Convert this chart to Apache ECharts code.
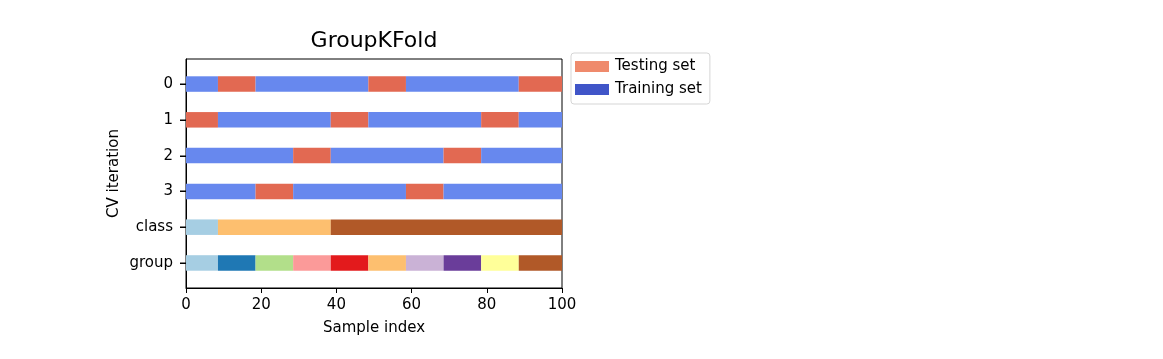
<!DOCTYPE html>
<html><head><meta charset="utf-8">
<script src="https://cdn.jsdelivr.net/npm/echarts@6/dist/echarts.min.js"></script>
<style>html,body{margin:0;padding:0;background:#fff}#c{width:1163px;height:359px}</style>
</head><body><div id="c"></div>
<script>
// Row labels, top to bottom
const rowLabels = ['0', '1', '2', '3', 'class', 'group'];
// x tick labels
const xTicks = [0, 20, 40, 60, 80, 100];
// Segments per row: [start, end, key]
const split0 = [[0, 8.5, 'train'], [8.5, 18.5, 'test'], [18.5, 48.5, 'train'], [48.5, 58.5, 'test'], [58.5, 88.5, 'train'], [88.5, 100, 'test']];
const split1 = [[0, 8.5, 'test'], [8.5, 38.5, 'train'], [38.5, 48.5, 'test'], [48.5, 78.5, 'train'], [78.5, 88.5, 'test'], [88.5, 100, 'train']];
const split2 = [[0, 28.5, 'train'], [28.5, 38.5, 'test'], [38.5, 68.5, 'train'], [68.5, 78.5, 'test'], [78.5, 100, 'train']];
const split3 = [[0, 18.5, 'train'], [18.5, 28.5, 'test'], [28.5, 58.5, 'train'], [58.5, 68.5, 'test'], [68.5, 100, 'train']];
const classSegs = [[0, 8.5, 'c0'], [8.5, 38.5, 'c1'], [38.5, 100, 'c2']];
const groupSegs = [[0, 8.5, 'g0'], [8.5, 18.5, 'g1'], [18.5, 28.5, 'g2'], [28.5, 38.5, 'g3'], [38.5, 48.5, 'g4'], [48.5, 58.5, 'g5'], [58.5, 68.5, 'g6'], [68.5, 78.5, 'g7'], [78.5, 88.5, 'g8'], [88.5, 100, 'g9']];
const allRows = [split0, split1, split2, split3, classSegs, groupSegs];
const legendNames = ['Testing set', 'Training set'];

const colors = {
  train: '#6788ee', test: '#e26952',
  c0: '#a6cee3', c1: '#fdbf6f', c2: '#b15928',
  g0: '#a6cee3', g1: '#1f78b4', g2: '#b2df8a', g3: '#fb9a99', g4: '#e31a1c',
  g5: '#fdbf6f', g6: '#cab2d6', g7: '#6a3d9a', g8: '#ffff99', g9: '#b15928'
};
const legendColors = ['#ef8a6c', '#4055c8'];

const data = [];
allRows.forEach((segs, r) => segs.forEach(s => data.push([s[0], s[1], r + 0.5, s[2]])));
const rowPos = rowLabels.map((_, i) => i + 0.5);

const chart = echarts.init(document.getElementById('c'), null, {renderer: 'canvas'});
const FONT = 'DejaVu Sans';
const titleGraphic = {type: 'text', x: 374, y: 41, style: {text: 'GroupKFold', fill: '#000', font: '22px "DejaVu Sans"', textAlign: 'center', textVerticalAlign: 'middle'}};
chart.setOption({
  animation: false,
  textStyle: {fontFamily: FONT},
  grid: {left: 186, right: 601, top: 59, bottom: 71, show: true, borderColor: '#000', borderWidth: 1, backgroundColor: 'transparent'},
  graphic: [titleGraphic],
  legend: {
    orient: 'vertical', left: 571, top: 53,
    data: legendNames.map((n, i) => ({name: n, itemStyle: {color: legendColors[i]}})),
    icon: 'rect', itemWidth: 34, itemHeight: 11, itemGap: 8,
    padding: [6, 8, 7, 4],
    borderColor: '#d5d5d5', borderWidth: 1, borderRadius: 3,
    textStyle: {fontFamily: FONT, fontSize: 15, color: '#000', padding: [0, 0, 0, 1]},
    selectedMode: false
  },
  xAxis: {
    type: 'value', min: 0, max: 100, interval: 20,
    name: 'Sample index', nameLocation: 'middle', nameGap: 33,
    nameTextStyle: {fontFamily: FONT, fontSize: 15, color: '#000'},
    axisLine: {show: true, onZero: false, lineStyle: {color: '#000', width: 1}},
    axisTick: {show: true, length: 5, lineStyle: {color: '#000'}},
    axisLabel: {fontFamily: FONT, fontSize: 15, color: '#000', margin: 10, formatter: v => String(v)},
    splitLine: {show: false}
  },
  yAxis: {
    type: 'value', min: -0.2, max: 6.2, inverse: true,
    name: 'CV iteration', nameLocation: 'middle', nameGap: 64,
    nameTextStyle: {fontFamily: FONT, fontSize: 15, color: '#000'},
    axisLine: {show: true, onZero: false, lineStyle: {color: '#000', width: 1}},
    axisTick: {show: false},
    axisLabel: {fontFamily: FONT, fontSize: 15, color: '#000', margin: 13,
      customValues: rowPos,
      formatter: v => rowLabels[Math.round(v - 0.5)]},
    splitLine: {show: false}
  },
  series: [
    {
      type: 'custom', name: 'segments',
      renderItem: (params, api) => {
        const a = api.coord([api.value(0), api.value(2)]);
        const b = api.coord([api.value(1), api.value(2)]);
        const h = 15.5;
        return {type: 'rect', shape: {x: a[0], y: a[1] - h / 2, width: b[0] - a[0], height: h},
          style: {fill: colors[data[params.dataIndex][3]]}};
      },
      encode: {x: [0, 1], y: 2},
      data: data.map(d => [d[0], d[1], d[2]]),
      clip: true, silent: true
    },
    {type: 'bar', name: legendNames[0], data: [], itemStyle: {color: legendColors[0]}},
    {type: 'bar', name: legendNames[1], data: [], itemStyle: {color: legendColors[1]}}
  ]
});
// y ticks placed through the library's own coordinate conversion
const tickGraphics = rowPos.map(v => {
  const p = chart.convertToPixel({gridIndex: 0}, [0, v]);
  const y = Math.round(p[1]);
  return {type: 'rect', z: 100, shape: {x: p[0] - 6, y: y - 0.5, width: 6, height: 1.5}, style: {fill: '#000'}};
});
chart.setOption({graphic: [titleGraphic].concat(tickGraphics)});
</script></body></html>
